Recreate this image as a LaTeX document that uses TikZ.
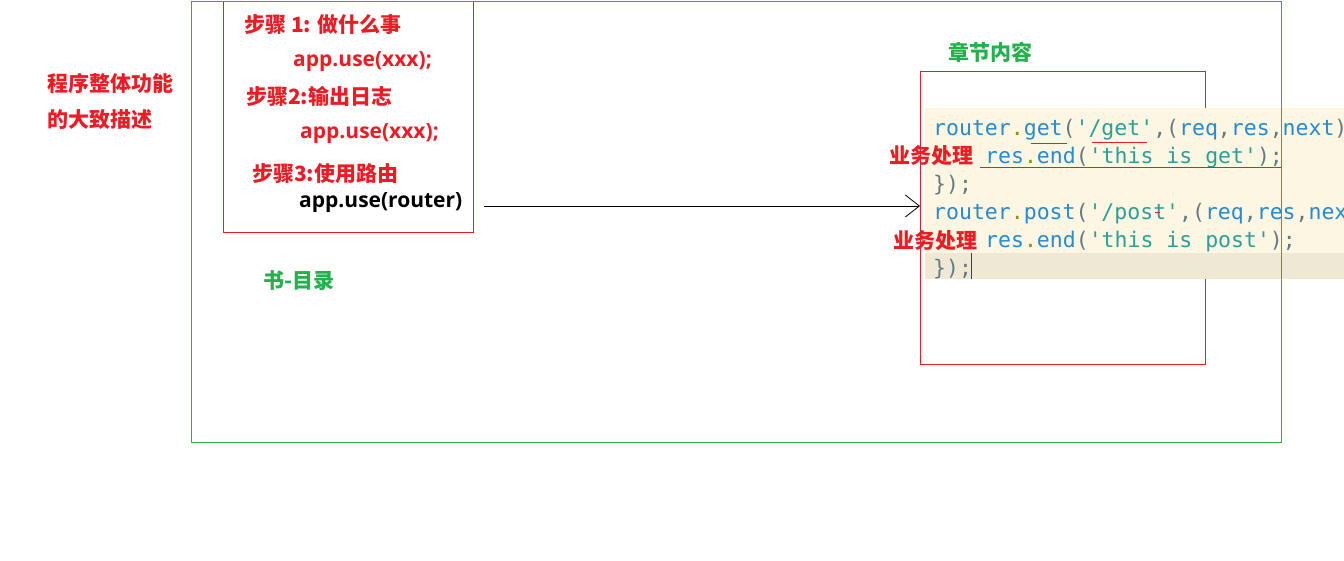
\documentclass[tikz,border=0pt]{standalone}
\usepackage{fontspec}
\usepackage{tikz}
\usetikzlibrary{arrows.meta}
\newfontfamily\cjk{Noto Sans CJK SC}
\newfontfamily\lat{Open Sans}
\setmonofont{DejaVu Sans Mono}
\definecolor{txtred}{HTML}{ED1C24}
\definecolor{txtgreen}{HTML}{22B14C}
\definecolor{codebg}{HTML}{FDF6E3}
\definecolor{codehl}{HTML}{EEE8D5}
\definecolor{codeid}{HTML}{268BD2}
\definecolor{codedot}{HTML}{859900}
\definecolor{codestr}{HTML}{2AA198}
\definecolor{codepun}{HTML}{657B83}
\newcommand{\tkid}[1]{\textcolor{codeid}{#1}}
\newcommand{\tkdot}{\textcolor{codedot}{.}}
\newcommand{\tkstr}[1]{\textcolor{codestr}{#1}}
\newcommand{\tkpun}[1]{\textcolor{codepun}{#1}}

\begin{document}
\begin{tikzpicture}[x=1pt,y=-1pt,
    redlabel/.style={anchor=base west,inner sep=0pt,text=txtred,
      font=\cjk\bfseries\fontsize{21}{24}\selectfont},
    greenlabel/.style={redlabel,text=txtgreen},
    applabel/.style={anchor=base west,inner sep=0pt,text=txtred,
      font=\lat\bfseries\fontsize{21}{24}\selectfont},
    codeline/.style={anchor=base west,inner sep=0pt,
      font=\ttfamily\fontsize{21.5}{28}\selectfont},
    frame/.style={draw,anchor=north west,inner sep=0pt,line width=1pt},
    squiggle/.style={txtred,line width=1pt}]
  \useasboundingbox (0,0) rectangle (1344,560);

  % Summary at the left
  \node[redlabel] (summaryA) at (47,91) {程序整体功能};
  \node[redlabel] (summaryB) at (47,127) {的大致描述};

  % Box with the steps
  \node[frame,draw=txtred,minimum width=250pt,minimum height=231pt] (steps) at (223,1) {};
  \node[redlabel] (stepone) at (244,32) {步骤 1: 做什么事};
  \node[applabel] (useone) at (293,66) {app.use(xxx);};
  \node[redlabel] (steptwo) at (246,104) {步骤2:输出日志};
  \node[applabel] (usetwo) at (300,138) {app.use(xxx);};
  \node[redlabel] (stepthree) at (252,181) {步骤3:使用路由};
  \node[applabel,text=black] (approuter) at (299,207) {app.use(router)};
  \node[greenlabel] (toc) at (263,288) {书-目录};

  % Box with the chapter
  \node[frame,draw=txtred,minimum width=285pt,minimum height=293pt] (chapter) at (920,71) {};
  \node[greenlabel] (chaptitle) at (948,60) {章节内容};

  % Code of the chapter
  \begin{scope}
    \clip (925,100) rectangle (1344,290);
    \fill[codebg] (925,108) rectangle (1344,279);
    \fill[codehl] (925,253) rectangle (1344,279);
    \node[codeline] (getline) at (933,135) {\tkid{router}\tkdot\tkid{get}\tkpun{(}\tkstr{'/get'}\tkpun{,(}\tkid{req}\tkpun{,}\tkid{res}\tkpun{,}\tkid{next}\tkpun{)}};
    \node[codeline] (getbody) at (985,163) {\tkid{res}\tkdot\tkid{end}\tkpun{(}\tkstr{'this is get'}\tkpun{);}};
    \node[codeline] (getend) at (933,191) {\tkpun{\});}};
    \node[codeline] (postline) at (933,219) {\tkid{router}\tkdot\tkid{post}\tkpun{(}\tkstr{'/post'}\tkpun{,(}\tkid{req}\tkpun{,}\tkid{res}\tkpun{,}\tkid{nex}};
    \node[codeline] (postbody) at (985,247) {\tkid{res}\tkdot\tkid{end}\tkpun{(}\tkstr{'this is post'}\tkpun{);}};
    \node[codeline] (postend) at (933,275) {\tkpun{\});}};
    \draw[black!75,line width=1pt] (971,253) -- (971,279);
  \end{scope}

  % Red marks under the code
  \draw[squiggle] (1031,143) -- (1067,143);
  \draw[squiggle] (1092,142) -- (1147,142);
  \draw[squiggle] (980,167) -- (1281,167);
  \draw[squiggle] (1155,212) -- (1160,212);
  \node[redlabel] (workone) at (889,163) {业务处理};
  \node[redlabel] (worktwo) at (893,248) {业务处理};

  % Outer frame
  \node[frame,draw=txtgreen,minimum width=1090pt,minimum height=441pt] (book) at (191,1) {};

  % Arrow from the router to the chapter
  \coordinate (arrowtail) at (484,206);
  \draw[-{Straight Barb[length=14pt,width=22pt]},line width=0.8pt] (arrowtail) -- (chapter.west |- arrowtail);
\end{tikzpicture}
\end{document}
